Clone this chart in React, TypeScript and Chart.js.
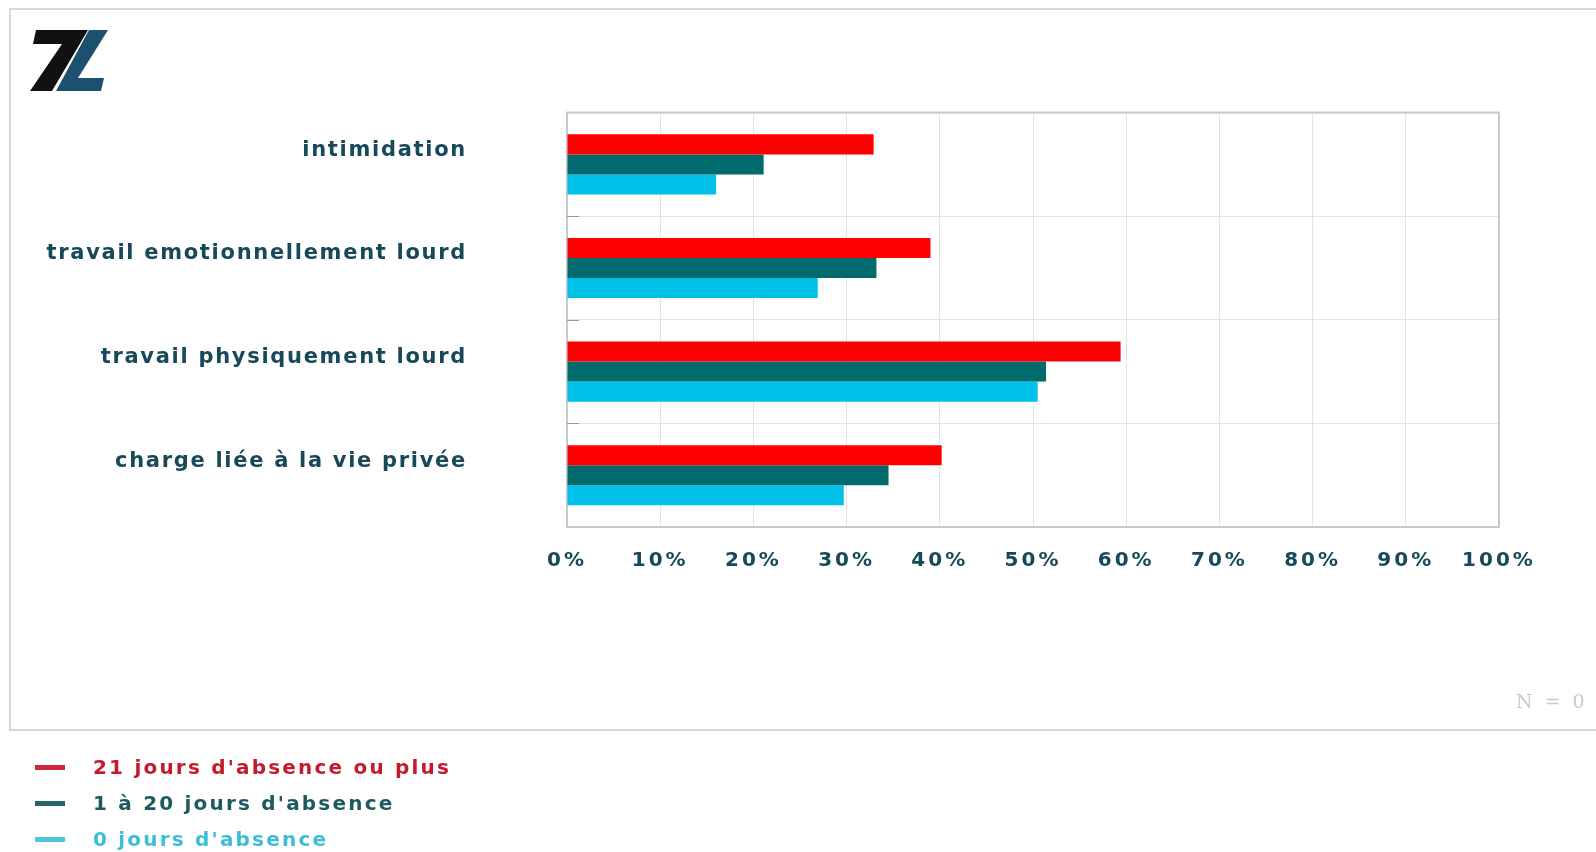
import React, { useEffect, useRef } from 'react';
import { Chart, registerables } from 'chart.js';

Chart.register(...registerables);

// ---- data ----
const categories = [
  'intimidation',
  'travail emotionnellement lourd',
  'travail physiquement lourd',
  'charge liée à la vie privée',
];
const seriesNames = ["21 jours d'absence ou plus", "1 à 20 jours d'absence", "0 jours d'absence"];
const series21Plus = [32.9, 39.0, 59.4, 40.2];
const series1To20 = [21.1, 33.2, 51.4, 34.5];
const series0 = [16.0, 26.9, 50.5, 29.7];
const xTickValues = [0, 10, 20, 30, 40, 50, 60, 70, 80, 90, 100];
const footnote = 'N = 0';

// ---- styles ----
const barColors = ['#ff0000', '#006a6c', '#00c2e8'];
const legendTextColors = ['#c41a2c', '#1d5a60', '#3ebed6'];
const legendMarkerColors = ['#d0283a', '#2a6468', '#4cc6dc'];
const labelColor = '#17495a';

const W = 1596;
const H = 852;
const PLOT_LEFT = 567;
const PLOT_RIGHT = 1499;
const PLOT_TOP = 112;
const PLOT_BOTTOM = 527;

const spacingPlugin = {
  id: 'labelSpacing',
  beforeDraw(chart: any) {
    const cfg: [string, string][] = [
      ['x', '3px'],
      ['y', '1.7px'],
    ];
    for (const [id, sp] of cfg) {
      const s = chart.scales[id];
      if (s && !s.__patched) {
        const orig = s.drawLabels.bind(s);
        s.drawLabels = (area: any) => {
          const c = chart.ctx;
          c.save();
          (c as any).letterSpacing = sp;
          orig(area);
          c.restore();
        };
        s.__patched = true;
      }
    }
  },
};

const framePlugin = {
  id: 'plotFrame',
  beforeDatasetsDraw(chart: any) {
    const { ctx, chartArea } = chart;
    ctx.save();
    ctx.strokeStyle = '#c3cad0';
    ctx.lineWidth = 2;
    ctx.strokeRect(chartArea.left, chartArea.top, chartArea.right - chartArea.left, chartArea.bottom - chartArea.top);
    const y = chart.scales.y;
    ctx.strokeStyle = '#8e9ba5';
    ctx.lineWidth = 1;
    for (let i = 1; i < categories.length; i++) {
      const py = Math.round(y.getPixelForValue(i - 0.5)) + 0.5;
      ctx.beginPath();
      ctx.moveTo(chartArea.left, py);
      ctx.lineTo(chartArea.left + 12, py);
      ctx.stroke();
    }
    ctx.restore();
  },
};

export default function App() {
  const canvasRef = useRef<HTMLCanvasElement | null>(null);

  useEffect(() => {
    if (!canvasRef.current) return;
    const chart = new Chart(canvasRef.current, {
      type: 'bar',
      data: {
        labels: categories,
        datasets: [
          { label: seriesNames[0], data: series21Plus, backgroundColor: barColors[0] },
          { label: seriesNames[1], data: series1To20, backgroundColor: barColors[1] },
          { label: seriesNames[2], data: series0, backgroundColor: barColors[2] },
        ],
      },
      options: {
        indexAxis: 'y',
        responsive: false,
        animation: false,
        devicePixelRatio: 1,
        categoryPercentage: 0.58,
        barPercentage: 1.0,
        layout: { padding: { top: PLOT_TOP, right: W - PLOT_RIGHT, left: 0, bottom: 0 } },
        plugins: {
          legend: { display: false },
          tooltip: { enabled: false },
        },
        scales: {
          x: {
            min: 0,
            max: 100,
            afterFit: (s: any) => {
              s.height = H - PLOT_BOTTOM;
            },
            afterBuildTicks: (s: any) => {
              s.ticks = xTickValues.map((v) => ({ value: v }));
            },
            ticks: {
              callback: (v: any) => `${v}%`,
              color: labelColor,
              font: { family: '"DejaVu Sans", Verdana, sans-serif', size: 20, weight: 'bold' },
              padding: 22,
              maxRotation: 0,
              autoSkip: false,
            },
            grid: { color: '#dfe5ea', lineWidth: 1, drawTicks: false },
            border: { display: false },
          },
          y: {
            afterFit: (s: any) => {
              s.width = PLOT_LEFT;
            },
            ticks: {
              color: labelColor,
              font: { family: '"DejaVu Sans", Verdana, sans-serif', size: 21, weight: 'bold' },
              padding: 100,
              labelOffset: -14,
              autoSkip: false,
            },
            grid: { color: '#dfe5ea', lineWidth: 1, drawTicks: false },
            border: { display: false },
          },
        },
      },
      plugins: [spacingPlugin, framePlugin],
    } as any);
    return () => chart.destroy();
  }, []);

  return (
    <div
      style={{
        position: 'absolute',
        left: 0,
        top: 0,
        width: W,
        height: H,
        overflow: 'hidden',
        background: '#ffffff',
      }}
    >
      <div
        style={{
          position: 'absolute',
          left: 9,
          top: 8,
          width: W,
          height: 723,
          border: '2px solid #d6d8da',
          boxSizing: 'border-box',
        }}
      />
      <svg
        width={90}
        height={70}
        viewBox="0 0 90 70"
        style={{ position: 'absolute', left: 25, top: 25 }}
      >
        <g transform="translate(-25,-25)">
          <path d="M36,30 L88,30 L52,91 L30,91 L62,44 L33,44 Z" fill="#111111" />
          <path d="M89,30 L108,30 L78,78 L104,78 L101,91 L56,91 Z" fill="#1d4f6e" />
        </g>
      </svg>
      <canvas
        ref={canvasRef}
        width={W}
        height={H}
        style={{ position: 'absolute', left: 0, top: 0, width: W, height: H }}
      />
      <div
        style={{
          position: 'absolute',
          left: 1516,
          top: 690,
          fontFamily: '"DejaVu Serif", serif',
          fontSize: 19,
          letterSpacing: '3px',
          color: '#cacaca',
          whiteSpace: 'nowrap',
        }}
      >
        {footnote}
      </div>
      {seriesNames.map((name, i) => (
        <div
          key={name}
          style={{
            position: 'absolute',
            left: 35,
            top: 767 + i * 36 - 13,
            height: 26,
            display: 'flex',
            alignItems: 'center',
            whiteSpace: 'nowrap',
          }}
        >
          <span
            style={{
              display: 'inline-block',
              width: 30,
              height: 5,
              background: legendMarkerColors[i],
              marginRight: 28,
            }}
          />
          <span
            style={{
              fontFamily: '"DejaVu Sans", Verdana, sans-serif',
              fontWeight: 'bold',
              fontSize: 20,
              letterSpacing: '2.2px',
              color: legendTextColors[i],
            }}
          >
            {name}
          </span>
        </div>
      ))}
    </div>
  );
}
